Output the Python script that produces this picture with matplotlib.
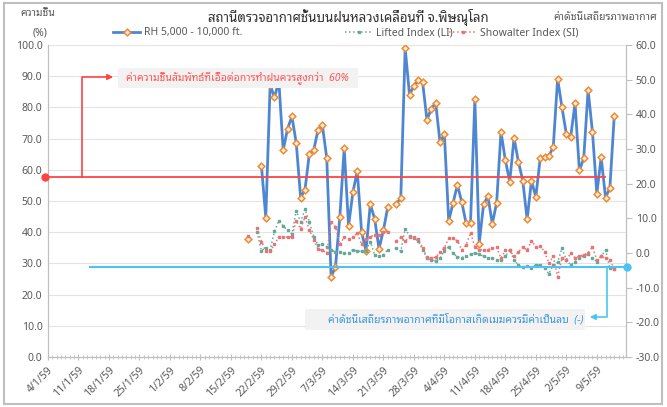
import numpy as np
import pandas as pd
import matplotlib
matplotlib.use("Agg")
import matplotlib.pyplot as plt
import matplotlib.dates as mdates
import matplotlib.font_manager as fm
from matplotlib.ft2font import FT2Font
from matplotlib.lines import Line2D
from matplotlib.patches import Rectangle, FancyBboxPatch, FancyArrowPatch

# ---------------- data ----------------
start_date = "2016-02-19"   # 19/2/59 (Buddhist era 2559)
rh = [37.8, np.nan, np.nan, 61.3, 44.7, 87.2, 83.2, 88.4, 66.3, 73.2,
      77.1, 68.5, 51.1, 53.6, 65.1, 66.3, 72.8, 74.2, 63.7, 25.7,
      28.9, 44.8, 67.0, 42.0, 52.8, 59.6, 40.0, 34.1, 49.0, 44.2,
      34.7, 40.6, 48.0, np.nan, 49.0, 51.1, 99.0, 84.0, 86.9, 88.7,
      88.1, 76.0, 79.6, 81.5, 68.8, 71.4, 43.6, 49.4, 55.2, 49.6,
      42.8, 42.8, 82.6, 36.3, 49.0, 51.5, 42.7, 49.4, 72.2, 63.1,
      56.2, 70.1, 62.6, 56.5, 44.1, 56.5, 51.3, 63.7, 64.2, 64.5,
      67.3, 89.2, 80.0, 71.5, 70.6, 81.3, 59.8, 63.7, 85.6, 72.1,
      52.4, 64.0, 51.1, 54.2, 77.2]
li = [np.nan, np.nan, 6.0, 0.7, 1.5, 0.8, 6.3, 9.3, 7.8, 6.5,
      5.5, 12.2, 9.0, 12.6, 9.0, 4.7, 2.3, 2.6, 1.8, 1.0,
      0.2, 0.3, 0.0, 0.0, 1.0, 0.5, 0.5, 0.6, 3.3, -0.6,
      -0.9, -0.6, 1.0, np.nan, 1.5, 0.5, 7.0, 5.0, 4.3, 3.5,
      1.0, -1.5, -2.0, -2.3, -1.5, 0.6, 1.8, 0.0, -1.2, -1.3,
      -0.9, -0.4, 0.0, -0.3, -1.0, -1.5, -1.5, -2.0, -2.0, -1.0,
      0.9, -2.0, -3.5, -4.0, -3.8, -4.2, -3.4, -3.6, -4.4, -6.0,
      -3.5, -2.7, 1.4, -2.0, -3.4, -2.5, -1.5, -0.8, -0.3, -1.5,
      -2.5, -1.0, 0.8, -4.3, -4.5]
si = [5.0, np.nan, 7.1, 3.3, 0.6, 0.5, 2.5, 4.7, 4.6, 4.6,
      4.7, 9.3, 7.0, 10.4, 6.6, 3.8, 1.1, 0.8, -0.1, 9.0,
      7.5, 2.5, 4.5, 4.0, 4.5, 5.8, 2.5, 4.0, 4.6, 5.3,
      5.2, 6.1, 6.2, np.nan, 3.5, 4.5, 3.5, 4.5, 4.5, 4.0,
      1.5, -1.2, -1.5, -1.2, 0.2, 1.5, 4.2, 4.2, 3.5, 0.9,
      2.3, 5.8, 1.8, 1.0, 0.9, 1.0, 1.4, 1.6, -1.5, 0.8,
      0.8, -1.0, 0.3, 1.8, 0.8, 3.5, 1.8, 2.0, 0.4, -3.0,
      -1.0, -6.8, -1.5, -2.0, -0.1, -1.4, -1.0, -0.5, 0.0, 1.8,
      -2.0, -1.0, -1.5, -2.0, -4.5]

title = "สถานีตรวจอากาศชั้นบนฝนหลวงเคลื่อนที่ จ.พิษณุโลก"
left_label = ["ความชื้น", "(%)"]
right_label = "ค่าดัชนีเสถียรภาพอากาศ"
series_names = ["RH 5,000 - 10,000 ft.", "Lifted Index (LI)", "Showalter Index (SI)"]
note_rh = "ค่าความชื้นสัมพัทธ์ที่เอื้อต่อการทำฝนควรสูงกว่า  60%"
note_si = "ค่าดัชนีเสถียรภาพอากาศที่มีโอกาสเกิดเมฆควรมีค่าเป็นลบ  (-)"
axis_start = "2016-01-04"
axis_days = 132.7
tick_first, tick_last = "2016-01-04", "2016-05-09"

# ---------------- fonts ----------------
def find_thai():
    cands = []
    for f in fm.fontManager.ttflist:
        try:
            cmap = FT2Font(f.fname).get_charmap()
        except Exception:
            continue
        if 0x0E01 in cmap and 0x0E2A in cmap and 0x0E48 in cmap:
            cands.append(f.name)
    pref = ['Tahoma', 'Leelawadee UI', 'Noto Sans Thai Looped', 'Noto Sans Thai UI',
            'Noto Sans Thai', 'Loma', 'Garuda', 'Waree', 'Umpush', 'Sawasdee', 'Norasi']
    for p in pref:
        if p in cands:
            return p
    return cands[0] if cands else None

thai = find_thai()
fams = ['Noto Sans'] + ([thai] if thai else []) + ['DejaVu Sans']
plt.rcParams['font.family'] = fams

# ---------------- figure ----------------
W, H = 667, 407
fig = plt.figure(figsize=(W / 100, H / 100), dpi=100)

def fx(x):
    return x / W

def fy(y):
    return 1 - y / H

ax = fig.add_axes([fx(48), fy(357), (626 - 48) / W, (357 - 45) / H])
ax2 = ax.twinx()

dates = pd.date_range(start_date, periods=len(rh), freq="D")
x0 = pd.Timestamp(axis_start)
ax.set_xlim(mdates.date2num(x0), mdates.date2num(x0) + axis_days)

gray = '#595959'
rh_line, = ax.plot(dates, rh, color='#4f86d2', lw=2.0, marker='D', ms=3.4,
                   mfc='#fff0e2', mec='#ef8a30', mew=1.1, zorder=5)
li_line, = ax2.plot(dates, li, color='#66a999', lw=1.1, ls=':', marker='s', ms=1.6,
                    zorder=4)
si_line, = ax2.plot(dates, si, color='#e87474', lw=1.1, ls=':', marker='s', ms=1.6,
                    zorder=4)

ax.set_ylim(0, 100)
ax.set_yticks(np.arange(0, 101, 10))
ax.set_yticklabels([f"{v:.1f}" for v in np.arange(0, 101, 10)])
ax2.set_ylim(-30, 60)
ax2.set_yticks(np.arange(-30, 61, 10))
ax2.set_yticklabels([f"{v:.1f}" for v in np.arange(-30, 61, 10)])
ax.yaxis.grid(True, color='#e4e4e4', lw=0.8)
ax.set_axisbelow(True)

ticks = pd.date_range(tick_first, tick_last, freq="7D")
ax.set_xticks(mdates.date2num(ticks))
ax.set_xticklabels([f"{d.day}/{d.month}/{(d.year + 543) % 100:02d}" for d in ticks],
                   rotation=45, ha='right', rotation_mode='anchor')
minor = pd.date_range(axis_start, periods=int(axis_days) + 1, freq="D")
ax.set_xticks(mdates.date2num(minor), minor=True)

for a in (ax, ax2):
    for s in a.spines.values():
        s.set_color('#bfbfbf')
    a.spines['top'].set_visible(False)
ax.tick_params(axis='y', length=0, labelsize=7.5, labelcolor=gray, pad=4)
ax2.tick_params(axis='y', length=4, color='#bfbfbf', labelsize=7.5, labelcolor=gray, pad=3)
ax.tick_params(axis='x', which='major', length=5, direction='inout', color='#bfbfbf',
               labelsize=7.5, labelcolor=gray, pad=3)
ax.tick_params(axis='x', which='minor', length=3, direction='inout', color='#bfbfbf')

# ---------------- texts ----------------
fig.text(fx(348), fy(17), title, ha='center', va='center', fontsize=9.5,
         fontweight='bold', color='#333333')
fig.text(fx(38), fy(14), left_label[0], ha='center', va='center', fontsize=7.5, color=gray)
fig.text(fx(40), fy(33), left_label[1], ha='center', va='center', fontsize=7.5, color=gray)
fig.text(fx(657), fy(18), right_label, ha='right', va='center', fontsize=7.5, color=gray)

legend_pos = [113, 345, 449]
for h, name, xp in zip([rh_line, li_line, si_line], series_names, legend_pos):
    fig.legend(handles=[h], labels=[name], loc='center left',
               bbox_to_anchor=(fx(xp), fy(33)), frameon=False, fontsize=7.5,
               handlelength=2.6, handletextpad=0.4, borderpad=0, borderaxespad=0,
               labelcolor=gray)

# ---------------- annotations ----------------
red = '#ff4343'
cyan = '#4cc3f2'
fig.add_artist(Line2D([fx(45), fx(605)], [fy(177), fy(177)], color=red, lw=1.3, zorder=10))
fig.add_artist(Line2D([fx(45)], [fy(177)], marker='o', ms=5, color=red, zorder=11))
fig.add_artist(Line2D([fx(82), fx(82), fx(108)], [fy(177), fy(77), fy(77)], color=red,
                      lw=1.2, zorder=10))
fig.add_artist(FancyArrowPatch((fx(104), fy(77)), (fx(116), fy(77)), transform=fig.transFigure,
                               arrowstyle='-|>', mutation_scale=8, color=red, lw=1.2, zorder=10))
fig.add_artist(FancyBboxPatch((fx(118), fy(88)), (358 - 118) / W, 20 / H,
                              boxstyle='round,pad=0,rounding_size=0.004',
                              transform=fig.transFigure, facecolor='#f2f2f2',
                              edgecolor='none', zorder=9))
fig.text(fx(237), fy(78), note_rh, ha='center', va='center', fontsize=7.5,
         style='italic', color='#ff5555', zorder=12)

fig.add_artist(Line2D([fx(90), fx(627)], [fy(267), fy(267)], color=cyan, lw=1.5, zorder=10))
fig.add_artist(Line2D([fx(627)], [fy(267)], marker='o', ms=5, color=cyan, zorder=11))
fig.add_artist(Line2D([fx(607), fx(607), fx(594)], [fy(267), fy(317), fy(317)], color=cyan,
                      lw=1.2, zorder=10))
fig.add_artist(FancyArrowPatch((fx(598), fy(317)), (fx(587), fy(317)), transform=fig.transFigure,
                               arrowstyle='-|>', mutation_scale=8, color=cyan, lw=1.2, zorder=10))
fig.add_artist(FancyBboxPatch((fx(305), fy(330)), (585 - 305) / W, 21 / H,
                              boxstyle='round,pad=0,rounding_size=0.004',
                              transform=fig.transFigure, facecolor='#f2f2f2',
                              edgecolor='none', zorder=9))
fig.text(fx(456), fy(320), note_si, ha='center', va='center', fontsize=7.5,
         style='italic', color='#3d95dd', zorder=12)

# chart border
fig.add_artist(Rectangle((fx(4), fy(404)), (662 - 4) / W, (404 - 3) / H,
                         transform=fig.transFigure, fill=False, edgecolor='#bfbfbf', lw=1.5))

fig.savefig("out.png", dpi=100)
